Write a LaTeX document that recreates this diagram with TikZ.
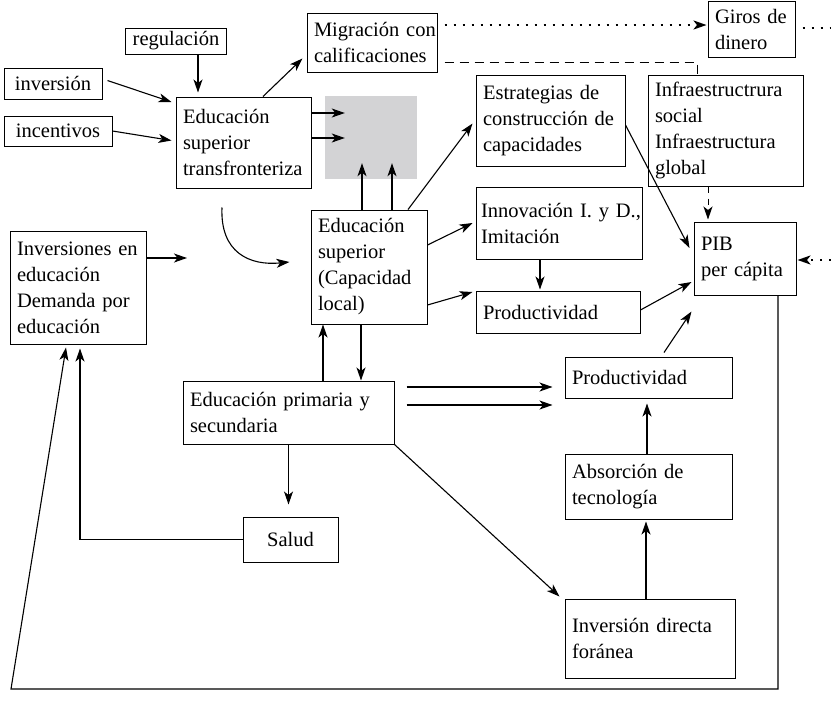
\documentclass[tikz,border=0pt]{standalone}
\usepackage{fontspec}
\setmainfont{Liberation Serif}
\usetikzlibrary{arrows.meta,calc}
\definecolor{shade}{RGB}{211,211,213}
\newcommand{\boxfont}{\fontsize{20.5}{26}\selectfont\hyphenpenalty=10000\exhyphenpenalty=10000}
\begin{document}
\begin{tikzpicture}[x=1pt,y=-1pt,
  box/.style={draw, line width=1pt, inner xsep=7pt, inner ysep=2pt, align=left,
    font=\boxfont},
  cbox/.style={box, align=center},
  arr/.style={line width=1.1pt, -{Stealth[length=13pt,width=9pt,inset=3.5pt]}},
  dotline/.style={line width=2.1pt, dash pattern=on 2.1pt off 6.9pt},
  dotarr/.style={dotline, -{Stealth[length=13pt,width=9pt,inset=3.5pt]}},
  dashline/.style={line width=1pt, dash pattern=on 9pt off 6pt},
  dasharr/.style={line width=1pt, dash pattern=on 6pt off 6pt,
    -{Stealth[length=13pt,width=9pt,inset=3.5pt,sep=0pt]}}]
\useasboundingbox (0,0) rectangle (831,705);

% boxes
\node[cbox, minimum width=98pt, minimum height=26pt] (reg) at (176,41) {regulación};
\node[cbox, minimum width=98pt, minimum height=31pt] (inv) at (53,83.5) {inversión};
\node[cbox, minimum width=108pt, minimum height=30pt] (inc) at (58,131) {incentivos};
\node[box, text width=121pt, minimum height=91pt] (est) at (243.5,142.5) {Educación\\superior\\transfronteriza};
\node[fill=shade, minimum width=92pt, minimum height=83pt, inner sep=0pt] (gray) at (371,137.5) {};
\node[box, text width=116pt, minimum height=59pt] (mig) at (372,42.5) {Migración~con\\calificaciones};
\node[box, text width=73pt, minimum height=56pt] (giros) at (751.5,29) {Giros~de\\dinero};
\node[box, text width=135pt, minimum height=91pt] (estr) at (550.5,120.5) {Estrategias~de\\construcción~de\\capacidades};
\node[box, text width=141pt, minimum height=111pt] (infra) at (725.5,130.5) {Infraestructrura\\social\\Infraestructura\\global};
\node[box, text width=88pt, minimum height=73pt] (pib) at (745,258.5) {PIB\\per~cápita};
\node[box, inner xsep=5pt, text width=156pt, minimum height=72pt] (inn) at (559,223) {Innovación~I.~y~D.,\\Imitación};
\node[box, text width=150pt, minimum height=42pt] (prod1) at (558,312) {Productividad};
\node[box, text width=102pt, minimum height=114pt] (escl) at (369,267) {Educación\\superior\\(Capacidad\\local)};
\node[box, text width=122pt, minimum height=113pt] (inver) at (78,287.5) {Inversiones~en\\educación\\Demanda~por\\educación};
\node[box, text width=197pt, minimum height=63pt] (eps) at (288.5,412.5) {Educación~primaria~y\\secundaria};
\node[box, text width=153pt, minimum height=41pt] (prod2) at (648.5,377.5) {Productividad};
\node[box, text width=153pt, minimum height=65pt] (abs) at (648.5,486.5) {Absorción~de\\tecnología};
\node[box, text width=156pt, minimum height=79pt] (idf) at (650,638.5) {Inversión~directa\\foránea};
\node[cbox, minimum width=95pt, minimum height=45pt] (salud) at (290.5,539.5) {Salud};

% free ends
\coordinate (rimG) at (831,28);
\coordinate (rimP) at (831,260);
\coordinate (gapA) at (187,258);
\coordinate (loopR) at (778,689);
\coordinate (loopL) at (11,689);

% inputs to cross-border higher education
\draw[arr] ([xshift=22pt]reg.south) -- ([xshift=-45.5pt,yshift=4pt]est.north);
\draw[arr] ([xshift=5pt,yshift=3pt]inv.east) -- ([xshift=-4pt,yshift=40.5pt]est.west);
\draw[arr] (inc.east) -- ([xshift=-4pt,yshift=2pt]est.west);
\draw[arr] ([yshift=29.5pt]est.east) -- ([xshift=20pt,yshift=29.5pt]est.east -| gray.west);
\draw[arr] ([yshift=4.5pt]est.east) -- ([xshift=20pt,yshift=4.5pt]est.east -| gray.west);
\draw[arr] ([xshift=19.5pt]est.north) -- ([xshift=-4pt,yshift=14pt]mig.south west);

% migration links
\draw[dotarr] ([xshift=7pt,yshift=17.5pt]mig.east) -- ([xshift=-1pt,yshift=17.5pt]mig.east -| giros.west);
\draw[dotline] ([xshift=7pt,yshift=1pt]giros.east) -- ([yshift=1pt]giros.east -| rimG);
\draw[dashline] ([xshift=7pt,yshift=-19.5pt]mig.east) -| ([xshift=-28.5pt]infra.north);
\draw[dasharr] ([xshift=-17.5pt]infra.south) -- ([xshift=-37pt,yshift=2pt]pib.north);
\draw[dotarr] (rimP) -- ([xshift=1pt,yshift=-1.5pt]pib.east);

% local higher education
\draw[arr] ([xshift=-7pt]escl.north) -- ([xshift=-7pt,yshift=16pt]escl.north |- gray.south);
\draw[arr] ([xshift=23pt]escl.north) -- ([xshift=23pt,yshift=16pt]escl.north |- gray.south);
\draw[arr] ([xshift=39pt]escl.north) -- ([xshift=-3pt,yshift=-3pt]estr.west);
\draw[arr] ([yshift=22pt]escl.east) -- ([xshift=-3pt]inn.west);
\draw[arr] ([yshift=-38pt]escl.east) -- ([xshift=-3pt,yshift=20pt]prod1.west);
\draw[arr] ([xshift=-19pt]inn.south) -- ([xshift=-19pt,yshift=1pt]inn.south |- prod1.north);

% towards GDP per capita
\draw[arr] ([yshift=-4.5pt]estr.east) -- ([xshift=-4pt,yshift=10.5pt]pib.west);
\draw[arr] ([yshift=2pt]prod1.east) -- ([xshift=-2pt,yshift=-23.5pt]pib.west);
\draw[arr] ([xshift=15.5pt,yshift=4pt]prod2.north) -- ([xshift=-2pt,yshift=-16pt]pib.south west);

% education investment
\draw[arr] ([yshift=29.5pt]inver.east) -- (gapA);
\draw[arr] ([xshift=-21.5pt,yshift=-19pt]est.south)
  .. controls +(-2,45) and +(-40,4) .. ([xshift=-21pt,yshift=5pt]escl.west);

% primary and secondary education
\draw[arr] ([xshift=-46pt]escl.south |- eps.north) -- ([xshift=-46pt]escl.south);
\draw[arr] ([xshift=-8pt]escl.south) -- ([xshift=-8pt]escl.south |- eps.north);
\draw[arr] ([xshift=12pt,yshift=25.5pt]eps.east) -- ([xshift=-12pt,yshift=25.5pt]eps.east -| prod2.west);
\draw[arr] ([xshift=12pt,yshift=7.5pt]eps.east) -- ([xshift=-12pt,yshift=7.5pt]eps.east -| prod2.west);
\draw[arr] (eps.south east) -- ([xshift=-5pt,yshift=2pt]idf.north west);
\draw[arr] (eps.south) -- ([yshift=12pt]eps.south |- salud.north);
\draw[arr] (salud.west) -| ([xshift=2pt,yshift=-4pt]inver.south);

% technology chain
\draw[arr] ([xshift=-4pt]idf.north) -- ([xshift=-4pt,yshift=-2pt]idf.north |- abs.south);
\draw[arr] ([xshift=-1.5pt]abs.north) -- ([xshift=-1.5pt,yshift=-5pt]abs.north |- prod2.south);

% feedback loop
\draw[arr] ([xshift=33pt]pib.south) -- (loopR) -- (loopL) -- ([xshift=-12pt,yshift=-3pt]inver.south);
\end{tikzpicture}
\end{document}
